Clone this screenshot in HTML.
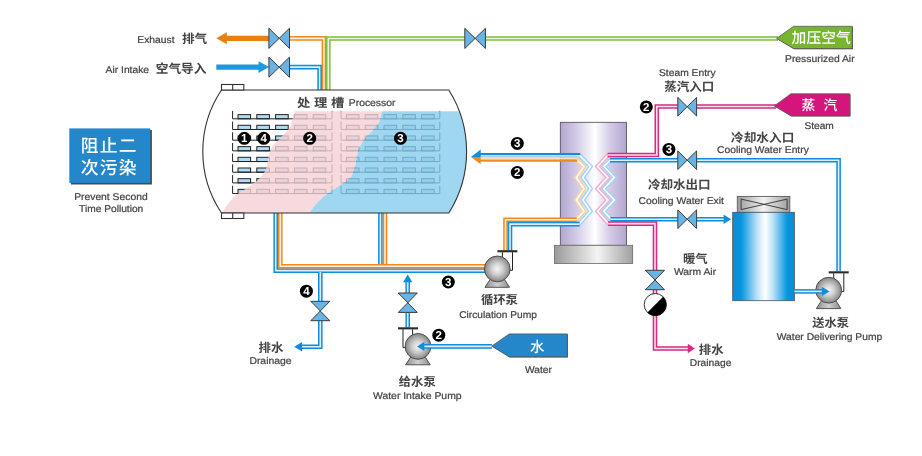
<!DOCTYPE html>
<html lang="zh">
<head>
<meta charset="utf-8">
<title>处理槽 Processor</title>
<style>
html,body{margin:0;padding:0;background:#fff;}
body{width:922px;height:456px;overflow:hidden;font-family:"Liberation Sans","Noto Sans CJK SC",sans-serif;}
svg{display:block;}
svg{will-change:transform;}
text{text-rendering:geometricPrecision;}
</style>
</head>
<body>
<svg width="922" height="456" viewBox="0 0 922 456">
<defs>
<linearGradient id="gex" x1="0" y1="0" x2="1" y2="0">
<stop offset="0" stop-color="#b3a6d0"/><stop offset="0.25" stop-color="#d3cbe6"/><stop offset="0.52" stop-color="#ffffff"/><stop offset="0.75" stop-color="#d3cbe6"/><stop offset="1" stop-color="#b3a6d0"/>
</linearGradient>
<linearGradient id="gexb" x1="0" y1="0" x2="1" y2="0">
<stop offset="0" stop-color="#9a9a9a"/><stop offset="0.55" stop-color="#f4f4f4"/><stop offset="1" stop-color="#a0a0a0"/>
</linearGradient>
<linearGradient id="gct" x1="0" y1="0" x2="1" y2="0">
<stop offset="0" stop-color="#0f88d4"/><stop offset="0.14" stop-color="#0597e0"/><stop offset="0.40" stop-color="#bfe2f7"/><stop offset="0.525" stop-color="#ffffff"/><stop offset="0.65" stop-color="#bfe2f7"/><stop offset="0.88" stop-color="#0597e0"/><stop offset="1" stop-color="#0f88d4"/>
</linearGradient>
<linearGradient id="gctt" x1="0" y1="0" x2="1" y2="0">
<stop offset="0" stop-color="#9c9c9c"/><stop offset="0.5" stop-color="#f2f2f2"/><stop offset="1" stop-color="#9c9c9c"/>
</linearGradient>
<linearGradient id="gbase" x1="0" y1="0" x2="1" y2="0">
<stop offset="0" stop-color="#8c8c8c"/><stop offset="0.5" stop-color="#d0d0d0"/><stop offset="1" stop-color="#8c8c8c"/>
</linearGradient>
<radialGradient id="gpump" cx="0.5" cy="0.5" r="0.5">
<stop offset="0" stop-color="#f6f6f6"/><stop offset="0.45" stop-color="#cfcfcf"/><stop offset="1" stop-color="#858585"/>
</radialGradient>
<clipPath id="tankclip"><path d="M221.5,90 H448.8 A115.14,115.14 0 0 1 448.8,213 H221.5 A110.48,110.48 0 0 1 221.5,90 Z"/></clipPath>
</defs>
<rect width="922" height="456" fill="#ffffff"/>

<g fill="none" stroke-linejoin="miter" stroke-miterlimit="10"><path d="M289.00,38.40 L323.90,38.40 L323.90,90.20" stroke="#f08a1c" stroke-width="4.60"/><path d="M289.00,38.40 L323.90,38.40 L323.90,90.20" stroke="#fdefdf" stroke-width="1.60"/></g>
<g fill="none" stroke-linejoin="miter" stroke-miterlimit="10"><path d="M289.00,67.10 L319.60,67.10 L319.60,90.20" stroke="#0f8edb" stroke-width="4.60"/><path d="M289.00,67.10 L319.60,67.10 L319.60,90.20" stroke="#ddeffa" stroke-width="1.60"/></g>
<g fill="none" stroke-linejoin="miter" stroke-miterlimit="10"><path d="M328.30,90.20 L328.30,38.50 L778.00,38.50" stroke="#7fbe3c" stroke-width="4.60"/><path d="M328.30,90.20 L328.30,38.50 L778.00,38.50" stroke="#edf6e4" stroke-width="1.60"/></g>
<path d="M216.3,38.3 L226.8,32.3 V35.7 H269 V40.9 H226.8 V44.3 Z" fill="#ea8010"/>
<path d="M216.3,64.4 H258.5 V61.2 L269,67.1 L258.5,73 V69.8 H216.3 Z" fill="#1a9ae0"/>
<rect x="268.90" y="35.10" width="20.60" height="6.4" fill="#fff"/>
<path d="M268.90,28.20 L289.50,48.40 L289.50,28.20 L268.90,48.40 Z" fill="#6bb3e2" stroke="#3c3c3c" stroke-width="1" stroke-linejoin="miter"/>
<rect x="268.90" y="64.00" width="20.60" height="6.4" fill="#fff"/>
<path d="M268.90,57.10 L289.50,77.30 L289.50,57.10 L268.90,77.30 Z" fill="#6bb3e2" stroke="#3c3c3c" stroke-width="1" stroke-linejoin="miter"/>
<rect x="464.80" y="35.20" width="20.60" height="6.4" fill="#fff"/>
<path d="M464.80,28.30 L485.40,48.50 L485.40,28.30 L464.80,48.50 Z" fill="#6bb3e2" stroke="#3c3c3c" stroke-width="1" stroke-linejoin="miter"/>
<g fill="none" stroke-linejoin="miter" stroke-miterlimit="10"><path d="M380.40,212.50 L380.40,264.20" stroke="#0f8edb" stroke-width="4.60"/><path d="M380.40,212.50 L380.40,264.20" stroke="#ddeffa" stroke-width="1.60"/></g>
<g fill="none" stroke-linejoin="miter" stroke-miterlimit="10"><path d="M275.70,212.50 L275.70,270.60 L486.00,270.60" stroke="#0f8edb" stroke-width="4.60"/><path d="M275.70,212.50 L275.70,270.60 L486.00,270.60" stroke="#ddeffa" stroke-width="1.60"/></g>
<g fill="none" stroke-linejoin="miter" stroke-miterlimit="10"><path d="M385.00,212.50 L385.00,266.20" stroke="#f08a1c" stroke-width="4.60"/><path d="M385.00,212.50 L385.00,266.20" stroke="#fdefdf" stroke-width="1.60"/></g>
<g fill="none" stroke-linejoin="miter" stroke-miterlimit="10"><path d="M280.30,212.50 L280.30,266.20 L486.00,266.20" stroke="#f08a1c" stroke-width="4.60"/><path d="M280.30,212.50 L280.30,266.20 L486.00,266.20" stroke="#fdefdf" stroke-width="1.60"/></g>
<path d="M221.5,90 H448.8 A115.14,115.14 0 0 1 448.8,213 H221.5 A110.48,110.48 0 0 1 221.5,90 Z" fill="#ffffff"/>
<g stroke="#222" stroke-width="1" fill="#aedcf6">
<rect x="238.00" y="114.60" width="12.6" height="4.2"/>
<rect x="256.80" y="114.60" width="12.6" height="4.2"/>
<rect x="275.60" y="114.60" width="12.6" height="4.2"/>
<rect x="294.40" y="114.60" width="12.6" height="4.2"/>
<rect x="313.20" y="114.60" width="12.6" height="4.2"/>
<rect x="238.00" y="125.28" width="12.6" height="4.2"/>
<rect x="256.80" y="125.28" width="12.6" height="4.2"/>
<rect x="275.60" y="125.28" width="12.6" height="4.2"/>
<rect x="294.40" y="125.28" width="12.6" height="4.2"/>
<rect x="313.20" y="125.28" width="12.6" height="4.2"/>
<rect x="238.00" y="135.96" width="12.6" height="4.2"/>
<rect x="256.80" y="135.96" width="12.6" height="4.2"/>
<rect x="275.60" y="135.96" width="12.6" height="4.2"/>
<rect x="294.40" y="135.96" width="12.6" height="4.2"/>
<rect x="313.20" y="135.96" width="12.6" height="4.2"/>
<rect x="238.00" y="146.64" width="12.6" height="4.2"/>
<rect x="256.80" y="146.64" width="12.6" height="4.2"/>
<rect x="275.60" y="146.64" width="12.6" height="4.2"/>
<rect x="294.40" y="146.64" width="12.6" height="4.2"/>
<rect x="313.20" y="146.64" width="12.6" height="4.2"/>
<rect x="238.00" y="157.32" width="12.6" height="4.2"/>
<rect x="256.80" y="157.32" width="12.6" height="4.2"/>
<rect x="275.60" y="157.32" width="12.6" height="4.2"/>
<rect x="294.40" y="157.32" width="12.6" height="4.2"/>
<rect x="313.20" y="157.32" width="12.6" height="4.2"/>
<rect x="238.00" y="168.00" width="12.6" height="4.2"/>
<rect x="256.80" y="168.00" width="12.6" height="4.2"/>
<rect x="275.60" y="168.00" width="12.6" height="4.2"/>
<rect x="294.40" y="168.00" width="12.6" height="4.2"/>
<rect x="313.20" y="168.00" width="12.6" height="4.2"/>
<rect x="238.00" y="178.68" width="12.6" height="4.2"/>
<rect x="256.80" y="178.68" width="12.6" height="4.2"/>
<rect x="275.60" y="178.68" width="12.6" height="4.2"/>
<rect x="294.40" y="178.68" width="12.6" height="4.2"/>
<rect x="313.20" y="178.68" width="12.6" height="4.2"/>
<rect x="238.00" y="189.36" width="12.6" height="4.2"/>
<rect x="256.80" y="189.36" width="12.6" height="4.2"/>
<rect x="275.60" y="189.36" width="12.6" height="4.2"/>
<rect x="294.40" y="189.36" width="12.6" height="4.2"/>
<rect x="313.20" y="189.36" width="12.6" height="4.2"/>
<rect x="346.40" y="114.60" width="12.6" height="4.2"/>
<rect x="365.20" y="114.60" width="12.6" height="4.2"/>
<rect x="384.00" y="114.60" width="12.6" height="4.2"/>
<rect x="402.80" y="114.60" width="12.6" height="4.2"/>
<rect x="421.60" y="114.60" width="12.6" height="4.2"/>
<rect x="346.40" y="125.28" width="12.6" height="4.2"/>
<rect x="365.20" y="125.28" width="12.6" height="4.2"/>
<rect x="384.00" y="125.28" width="12.6" height="4.2"/>
<rect x="402.80" y="125.28" width="12.6" height="4.2"/>
<rect x="421.60" y="125.28" width="12.6" height="4.2"/>
<rect x="346.40" y="135.96" width="12.6" height="4.2"/>
<rect x="365.20" y="135.96" width="12.6" height="4.2"/>
<rect x="384.00" y="135.96" width="12.6" height="4.2"/>
<rect x="402.80" y="135.96" width="12.6" height="4.2"/>
<rect x="421.60" y="135.96" width="12.6" height="4.2"/>
<rect x="346.40" y="146.64" width="12.6" height="4.2"/>
<rect x="365.20" y="146.64" width="12.6" height="4.2"/>
<rect x="384.00" y="146.64" width="12.6" height="4.2"/>
<rect x="402.80" y="146.64" width="12.6" height="4.2"/>
<rect x="421.60" y="146.64" width="12.6" height="4.2"/>
<rect x="346.40" y="157.32" width="12.6" height="4.2"/>
<rect x="365.20" y="157.32" width="12.6" height="4.2"/>
<rect x="384.00" y="157.32" width="12.6" height="4.2"/>
<rect x="402.80" y="157.32" width="12.6" height="4.2"/>
<rect x="421.60" y="157.32" width="12.6" height="4.2"/>
<rect x="346.40" y="168.00" width="12.6" height="4.2"/>
<rect x="365.20" y="168.00" width="12.6" height="4.2"/>
<rect x="384.00" y="168.00" width="12.6" height="4.2"/>
<rect x="402.80" y="168.00" width="12.6" height="4.2"/>
<rect x="421.60" y="168.00" width="12.6" height="4.2"/>
<rect x="346.40" y="178.68" width="12.6" height="4.2"/>
<rect x="365.20" y="178.68" width="12.6" height="4.2"/>
<rect x="384.00" y="178.68" width="12.6" height="4.2"/>
<rect x="402.80" y="178.68" width="12.6" height="4.2"/>
<rect x="421.60" y="178.68" width="12.6" height="4.2"/>
<rect x="346.40" y="189.36" width="12.6" height="4.2"/>
<rect x="365.20" y="189.36" width="12.6" height="4.2"/>
<rect x="384.00" y="189.36" width="12.6" height="4.2"/>
<rect x="402.80" y="189.36" width="12.6" height="4.2"/>
<rect x="421.60" y="189.36" width="12.6" height="4.2"/>
</g>
<g stroke="#222" stroke-width="1" fill="none">
<path d="M232.60,110.90 V118.80 H332.00 V110.90"/>
<path d="M232.60,121.58 V129.48 H332.00 V121.58"/>
<path d="M232.60,132.26 V140.16 H332.00 V132.26"/>
<path d="M232.60,142.94 V150.84 H332.00 V142.94"/>
<path d="M232.60,153.62 V161.52 H332.00 V153.62"/>
<path d="M232.60,164.30 V172.20 H332.00 V164.30"/>
<path d="M232.60,174.98 V182.88 H332.00 V174.98"/>
<path d="M232.60,185.66 V193.56 H332.00 V185.66"/>
<path d="M341.00,110.90 V118.80 H439.80 V110.90"/>
<path d="M341.00,121.58 V129.48 H439.80 V121.58"/>
<path d="M341.00,132.26 V140.16 H439.80 V132.26"/>
<path d="M341.00,142.94 V150.84 H439.80 V142.94"/>
<path d="M341.00,153.62 V161.52 H439.80 V153.62"/>
<path d="M341.00,164.30 V172.20 H439.80 V164.30"/>
<path d="M341.00,174.98 V182.88 H439.80 V174.98"/>
<path d="M341.00,185.66 V193.56 H439.80 V185.66"/>
</g>
<g clip-path="url(#tankclip)">
<path d="M294.60,111.20 C294.28,112.45 293.63,115.82 292.70,118.70 C291.77,121.58 290.62,125.78 289.00,128.50 C287.38,131.22 284.70,133.12 283.00,135.00 C281.30,136.88 280.25,138.27 278.80,139.80 C277.35,141.33 275.57,142.75 274.30,144.20 C273.03,145.65 272.08,146.70 271.20,148.50 C270.32,150.30 269.57,152.92 269.00,155.00 C268.43,157.08 268.37,158.50 267.80,161.00 C267.23,163.50 267.23,166.83 265.60,170.00 C263.97,173.17 261.25,176.93 258.00,180.00 C254.75,183.07 249.75,185.88 246.10,188.40 C242.45,190.92 239.12,192.50 236.10,195.10 C233.08,197.70 230.52,200.85 228.00,204.00 C225.48,207.15 222.17,212.33 221.00,214.00 L309,214 L309.00,214.00 C309.37,213.40 309.43,212.68 311.20,210.40 C312.97,208.12 316.53,203.33 319.60,200.30 C322.67,197.27 326.53,194.45 329.60,192.20 C332.67,189.95 334.68,189.07 338.00,186.80 C341.32,184.53 346.83,181.40 349.50,178.60 C352.17,175.80 352.83,173.10 354.00,170.00 C355.17,166.90 355.77,163.30 356.50,160.00 C357.23,156.70 356.98,153.78 358.40,150.20 C359.82,146.62 362.50,141.85 365.00,138.50 C367.50,135.15 371.02,132.88 373.40,130.10 C375.78,127.32 377.90,124.95 379.30,121.80 C380.70,118.65 381.38,112.97 381.80,111.20 Z" fill="#f5d1d6" fill-opacity="0.8"/>
<path d="M381.80,111.20 C381.38,112.97 380.70,118.65 379.30,121.80 C377.90,124.95 375.78,127.32 373.40,130.10 C371.02,132.88 367.50,135.15 365.00,138.50 C362.50,141.85 359.82,146.62 358.40,150.20 C356.98,153.78 357.23,156.70 356.50,160.00 C355.77,163.30 355.17,166.90 354.00,170.00 C352.83,173.10 352.17,175.80 349.50,178.60 C346.83,181.40 341.32,184.53 338.00,186.80 C334.68,189.07 332.67,189.95 329.60,192.20 C326.53,194.45 322.67,197.27 319.60,200.30 C316.53,203.33 312.97,208.12 311.20,210.40 C309.43,212.68 309.37,213.40 309.00,214.00 L480,214 L480,111.2 Z" fill="#88cdec" fill-opacity="0.8"/>
</g>
<path d="M221.5,90 H448.8 A115.14,115.14 0 0 1 448.8,213 H221.5 A110.48,110.48 0 0 1 221.5,90 Z" fill="none" stroke="#333" stroke-width="1.1"/>
<g fill="#fff" stroke="#333" stroke-width="1.1"><rect x="221.5" y="84.5" width="22.3" height="5.5"/><path d="M232.7,84.5 V90"/><rect x="221.5" y="213" width="22.3" height="5.5"/><path d="M232.7,213 V218.5"/></g>
<text x="296.90" y="107.00" font-size="12.00" font-weight="bold" fill="#444444" text-anchor="start" textLength="47.3" lengthAdjust="spacingAndGlyphs" font-family="'Liberation Sans', 'Noto Sans CJK SC', sans-serif">处 理 槽</text>
<text x="348.80" y="105.70" font-size="9.80" fill="#444444" stroke="#444444" stroke-width="0.22" text-anchor="start" textLength="46.6" lengthAdjust="spacingAndGlyphs" font-family="'Liberation Sans', sans-serif">Processor</text>
<circle cx="244.30" cy="138.30" r="6.50" fill="#000"/>
<text x="244.30" y="142.30" font-size="11.5" font-weight="bold" fill="#fff" text-anchor="middle" font-family="'Liberation Sans', sans-serif">1</text>
<circle cx="263.80" cy="138.30" r="6.50" fill="#000"/>
<text x="263.80" y="142.30" font-size="11.5" font-weight="bold" fill="#fff" text-anchor="middle" font-family="'Liberation Sans', sans-serif">4</text>
<circle cx="309.70" cy="138.30" r="6.50" fill="#000"/>
<text x="309.70" y="142.30" font-size="11.5" font-weight="bold" fill="#fff" text-anchor="middle" font-family="'Liberation Sans', sans-serif">2</text>
<circle cx="400.50" cy="138.30" r="6.50" fill="#000"/>
<text x="400.50" y="142.30" font-size="11.5" font-weight="bold" fill="#fff" text-anchor="middle" font-family="'Liberation Sans', sans-serif">3</text>
<rect x="70.9" y="130.0" width="81" height="54.5" fill="#4a4a4a"/>
<rect x="69.3" y="128.4" width="81" height="54.5" fill="#2487c9"/>
<text x="108.70" y="152.00" font-size="17.80" font-weight="500" fill="#fff" text-anchor="middle" textLength="55.8" lengthAdjust="spacing" font-family="'Liberation Sans', 'Noto Sans CJK SC', sans-serif">阻止二</text>
<text x="108.70" y="173.60" font-size="17.80" font-weight="500" fill="#fff" text-anchor="middle" textLength="55.8" lengthAdjust="spacing" font-family="'Liberation Sans', 'Noto Sans CJK SC', sans-serif">次污染</text>
<text x="110.90" y="200.00" font-size="9.80" fill="#444444" stroke="#444444" stroke-width="0.22" text-anchor="middle" textLength="73.5" lengthAdjust="spacingAndGlyphs" font-family="'Liberation Sans', sans-serif">Prevent Second</text>
<text x="111.20" y="212.00" font-size="9.80" fill="#444444" stroke="#444444" stroke-width="0.22" text-anchor="middle" textLength="64.2" lengthAdjust="spacingAndGlyphs" font-family="'Liberation Sans', sans-serif">Time Pollution</text>
<text x="137.30" y="43.40" font-size="9.80" fill="#444444" stroke="#444444" stroke-width="0.22" text-anchor="start" textLength="37.2" lengthAdjust="spacingAndGlyphs" font-family="'Liberation Sans', sans-serif">Exhaust</text>
<text x="181.90" y="43.30" font-size="12.40" font-weight="bold" fill="#444444" text-anchor="start" textLength="25.3" lengthAdjust="spacingAndGlyphs" font-family="'Liberation Sans', 'Noto Sans CJK SC', sans-serif">排气</text>
<text x="105.60" y="72.80" font-size="9.80" fill="#444444" stroke="#444444" stroke-width="0.22" text-anchor="start" textLength="43.5" lengthAdjust="spacingAndGlyphs" font-family="'Liberation Sans', sans-serif">Air Intake</text>
<text x="155.80" y="73.20" font-size="12.40" font-weight="bold" fill="#444444" text-anchor="start" textLength="50.6" lengthAdjust="spacingAndGlyphs" font-family="'Liberation Sans', 'Noto Sans CJK SC', sans-serif">空气导入</text>
<rect x="560.3" y="122.3" width="66.3" height="123" fill="url(#gex)" stroke="#4a4a4a" stroke-width="0.8"/>
<rect x="554.5" y="245.3" width="78.2" height="18.2" fill="url(#gexb)" stroke="#6a6a6a" stroke-width="0.8"/>
<g fill="none" stroke-linejoin="miter" stroke-miterlimit="10"><path d="M576.20,159.50 L584.00,166.40 L576.30,177.60 L584.00,188.80 L576.30,200.00 L584.00,211.20 L576.20,219.80" stroke="#fad0a4" stroke-width="4.40"/><path d="M576.20,159.50 L584.00,166.40 L576.30,177.60 L584.00,188.80 L576.30,200.00 L584.00,211.20 L576.20,219.80" stroke="#ffffff" stroke-width="1.50"/></g>
<g fill="none" stroke-linejoin="miter" stroke-miterlimit="10"><path d="M579.10,155.10 L590.60,166.40 L582.80,177.60 L590.60,188.80 L582.80,200.00 L590.60,211.20 L579.10,224.10" stroke="#a4d6f4" stroke-width="4.40"/><path d="M579.10,155.10 L590.60,166.40 L582.80,177.60 L590.60,188.80 L582.80,200.00 L590.60,211.20 L579.10,224.10" stroke="#ffffff" stroke-width="1.50"/></g>
<g fill="none" stroke-linejoin="miter" stroke-miterlimit="10"><path d="M608.10,155.00 L597.50,166.40 L607.90,177.60 L597.50,188.80 L607.90,200.00 L597.50,211.20 L608.40,223.60" stroke="#f2b0cc" stroke-width="4.40"/><path d="M608.10,155.00 L597.50,166.40 L607.90,177.60 L597.50,188.80 L607.90,200.00 L597.50,211.20 L608.40,223.60" stroke="#ffffff" stroke-width="1.50"/></g>
<g fill="none" stroke-linejoin="miter" stroke-miterlimit="10"><path d="M610.40,160.30 L603.80,166.40 L614.30,177.60 L603.80,188.80 L614.30,200.00 L603.80,211.20 L611.00,219.20" stroke="#a4d6f4" stroke-width="4.40"/><path d="M610.40,160.30 L603.80,166.40 L614.30,177.60 L603.80,188.80 L614.30,200.00 L603.80,211.20 L611.00,219.20" stroke="#ffffff" stroke-width="1.50"/></g>
<rect x="479.5" y="155" width="100" height="2.1" fill="#bcdff5"/>
<rect x="479.5" y="157.3" width="97.4" height="2.2" fill="#fbdebf"/>
<rect x="479.5" y="156.55" width="97.4" height="0.75" fill="#a9bcc8"/>
<path d="M479.5,154 H580.3" stroke="#0f8edb" stroke-width="2.1" fill="none"/>
<path d="M479.5,160.55 H577.3" stroke="#f08a1c" stroke-width="2.3" fill="none"/>
<path d="M470.9,157.0 L480.7,149.6 V157.0 Z" fill="#0f8edb"/>
<path d="M470.9,157.0 L480.7,164.2 V157.0 Z" fill="#f08a1c"/>
<g fill="none" stroke-linejoin="miter" stroke-miterlimit="10"><path d="M576.70,219.80 L505.50,219.80 L505.50,250.50" stroke="#f08a1c" stroke-width="4.60"/><path d="M576.70,219.80 L505.50,219.80 L505.50,250.50" stroke="#fdefdf" stroke-width="1.60"/></g>
<g fill="none" stroke-linejoin="miter" stroke-miterlimit="10"><path d="M579.60,224.10 L510.00,224.10 L510.00,250.50" stroke="#0f8edb" stroke-width="4.60"/><path d="M579.60,224.10 L510.00,224.10 L510.00,250.50" stroke="#ddeffa" stroke-width="1.60"/></g>
<g fill="none" stroke-linejoin="miter" stroke-miterlimit="10"><path d="M776.00,106.50 L656.80,106.50 L656.80,155.00 L607.60,155.00" stroke="#d82a80" stroke-width="4.60"/><path d="M776.00,106.50 L656.80,106.50 L656.80,155.00 L607.60,155.00" stroke="#fae1ed" stroke-width="1.60"/></g>
<g fill="none" stroke-linejoin="miter" stroke-miterlimit="10"><path d="M609.90,160.30 L838.60,160.30 L838.60,271.50" stroke="#0f8edb" stroke-width="4.60"/><path d="M609.90,160.30 L838.60,160.30 L838.60,271.50" stroke="#ddeffa" stroke-width="1.60"/></g>
<g fill="none" stroke-linejoin="miter" stroke-miterlimit="10"><path d="M610.50,219.20 L725.00,219.20" stroke="#0f8edb" stroke-width="4.60"/><path d="M610.50,219.20 L725.00,219.20" stroke="#ddeffa" stroke-width="1.60"/></g>
<g fill="none" stroke-linejoin="miter" stroke-miterlimit="10"><path d="M607.90,223.60 L655.00,223.60 L655.00,348.50 L689.00,348.50" stroke="#d82a80" stroke-width="4.60"/><path d="M607.90,223.60 L655.00,223.60 L655.00,348.50 L689.00,348.50" stroke="#fae1ed" stroke-width="1.60"/></g>
<path d="M731,219.3 L723.6,214.6 V224 Z" fill="#0f8edb"/>
<path d="M694.8,348.5 L687.8,343.7 V353.3 Z" fill="#d82a80"/>
<rect x="677.80" y="103.50" width="18.80" height="6.4" fill="#fff"/>
<path d="M677.80,97.40 L696.60,116.00 L696.60,97.40 L677.80,116.00 Z" fill="#6bb3e2" stroke="#3c3c3c" stroke-width="1" stroke-linejoin="miter"/>
<rect x="677.80" y="157.00" width="18.80" height="6.4" fill="#fff"/>
<path d="M677.80,150.90 L696.60,169.50 L696.60,150.90 L677.80,169.50 Z" fill="#6bb3e2" stroke="#3c3c3c" stroke-width="1" stroke-linejoin="miter"/>
<rect x="677.80" y="216.00" width="18.80" height="6.4" fill="#fff"/>
<path d="M677.80,209.90 L696.60,228.50 L696.60,209.90 L677.80,228.50 Z" fill="#6bb3e2" stroke="#3c3c3c" stroke-width="1" stroke-linejoin="miter"/>
<rect x="651.80" y="270.30" width="6.4" height="19.40" fill="#fff"/>
<path d="M645.50,270.30 L664.50,270.30 L645.50,289.70 L664.50,289.70 Z" fill="#6bb3e2" stroke="#3c3c3c" stroke-width="1" stroke-linejoin="miter"/>
<circle cx="655.3" cy="304.6" r="11.1" fill="#fff" stroke="#000" stroke-width="0.8"/>
<path d="M663.15,296.75 A11.1,11.1 0 0 1 647.45,312.45 Z" fill="#000"/>
<circle cx="646.30" cy="106.90" r="6.50" fill="#000"/>
<text x="646.30" y="110.90" font-size="11.5" font-weight="bold" fill="#fff" text-anchor="middle" font-family="'Liberation Sans', sans-serif">2</text>
<circle cx="668.90" cy="149.40" r="6.50" fill="#000"/>
<text x="668.90" y="153.40" font-size="11.5" font-weight="bold" fill="#fff" text-anchor="middle" font-family="'Liberation Sans', sans-serif">3</text>
<circle cx="517.30" cy="143.40" r="6.50" fill="#000"/>
<text x="517.30" y="147.40" font-size="11.5" font-weight="bold" fill="#fff" text-anchor="middle" font-family="'Liberation Sans', sans-serif">3</text>
<circle cx="517.30" cy="172.40" r="6.50" fill="#000"/>
<text x="517.30" y="176.40" font-size="11.5" font-weight="bold" fill="#fff" text-anchor="middle" font-family="'Liberation Sans', sans-serif">2</text>
<path d="M776.60,38.40 L793.60,26.30 H852.30 V48.60 H793.60 Z" fill="#555" transform="translate(0.7,0.7)"/>
<path d="M776.60,38.40 L793.60,26.30 H852.30 V48.60 H793.60 Z" fill="#78b52e" stroke="#5a5a5a" stroke-width="0.8" stroke-linejoin="miter"/>
<text x="821.20" y="42.50" font-size="14.80" font-weight="500" fill="#fff" text-anchor="middle" textLength="59.2" lengthAdjust="spacing" font-family="'Liberation Sans', 'Noto Sans CJK SC', sans-serif">加压空气</text>
<text x="785.00" y="61.80" font-size="9.80" fill="#444444" stroke="#444444" stroke-width="0.22" text-anchor="start" textLength="69.6" lengthAdjust="spacingAndGlyphs" font-family="'Liberation Sans', sans-serif">Pressurized Air</text>
<path d="M774.30,105.90 L790.90,93.80 H849.80 V115.80 H790.90 Z" fill="#555" transform="translate(0.7,0.7)"/>
<path d="M774.30,105.90 L790.90,93.80 H849.80 V115.80 H790.90 Z" fill="#d4167c" stroke="#5a5a5a" stroke-width="0.8" stroke-linejoin="miter"/>
<text x="819.40" y="110.00" font-size="13.80" font-weight="500" fill="#fff" text-anchor="middle" textLength="35.6" lengthAdjust="spacing" font-family="'Liberation Sans', 'Noto Sans CJK SC', sans-serif">蒸 汽</text>
<text x="804.40" y="129.00" font-size="9.80" fill="#444444" stroke="#444444" stroke-width="0.22" text-anchor="start" textLength="29.4" lengthAdjust="spacingAndGlyphs" font-family="'Liberation Sans', sans-serif">Steam</text>
<text x="659.00" y="75.60" font-size="9.80" fill="#444444" stroke="#444444" stroke-width="0.22" text-anchor="start" textLength="56.6" lengthAdjust="spacingAndGlyphs" font-family="'Liberation Sans', sans-serif">Steam Entry</text>
<text x="664.20" y="90.80" font-size="12.30" font-weight="bold" fill="#444444" text-anchor="start" textLength="50.0" lengthAdjust="spacingAndGlyphs" font-family="'Liberation Sans', 'Noto Sans CJK SC', sans-serif">蒸汽入口</text>
<text x="731.10" y="142.20" font-size="12.30" font-weight="bold" fill="#444444" text-anchor="start" textLength="63.2" lengthAdjust="spacingAndGlyphs" font-family="'Liberation Sans', 'Noto Sans CJK SC', sans-serif">冷却水入口</text>
<text x="717.00" y="152.90" font-size="9.80" fill="#444444" stroke="#444444" stroke-width="0.22" text-anchor="start" textLength="91.8" lengthAdjust="spacingAndGlyphs" font-family="'Liberation Sans', sans-serif">Cooling Water Entry</text>
<text x="647.90" y="189.00" font-size="12.30" font-weight="bold" fill="#444444" text-anchor="start" textLength="62.8" lengthAdjust="spacingAndGlyphs" font-family="'Liberation Sans', 'Noto Sans CJK SC', sans-serif">冷却水出口</text>
<text x="638.40" y="203.60" font-size="9.80" fill="#444444" stroke="#444444" stroke-width="0.22" text-anchor="start" textLength="85.6" lengthAdjust="spacingAndGlyphs" font-family="'Liberation Sans', sans-serif">Cooling Water Exit</text>
<text x="683.00" y="263.30" font-size="12.20" font-weight="bold" fill="#444444" text-anchor="start" textLength="24.7" lengthAdjust="spacingAndGlyphs" font-family="'Liberation Sans', 'Noto Sans CJK SC', sans-serif">暖气</text>
<text x="673.90" y="274.70" font-size="9.80" fill="#444444" stroke="#444444" stroke-width="0.22" text-anchor="start" textLength="42.2" lengthAdjust="spacingAndGlyphs" font-family="'Liberation Sans', sans-serif">Warm Air</text>
<text x="698.80" y="353.80" font-size="12.30" font-weight="bold" fill="#444444" text-anchor="start" textLength="24.7" lengthAdjust="spacingAndGlyphs" font-family="'Liberation Sans', 'Noto Sans CJK SC', sans-serif">排水</text>
<text x="689.80" y="366.00" font-size="9.80" fill="#444444" stroke="#444444" stroke-width="0.22" text-anchor="start" textLength="41.6" lengthAdjust="spacingAndGlyphs" font-family="'Liberation Sans', sans-serif">Drainage</text>
<rect x="737.3" y="196.4" width="52.5" height="16" fill="url(#gctt)" stroke="#5a5a5a" stroke-width="0.9"/>
<path d="M741.1,199.1 L787.1,209.6 V199.1 L741.1,209.6 Z" fill="none" stroke="#333" stroke-width="0.9" stroke-linejoin="miter"/>
<rect x="732.7" y="212.3" width="61.7" height="88.4" fill="url(#gct)" stroke="#4a5560" stroke-width="0.8"/>
<path d="M821.50,300.70 L835.90,300.70 L840.90,308.60 L816.30,308.60 Z" fill="url(#gbase)" stroke="#444" stroke-width="0.9"/>
<path d="M833.70,273.30 V282.20 M843.80,273.30 V291.60 H839.70" fill="none" stroke="#222" stroke-width="1"/>
<circle cx="828.70" cy="290.20" r="12.90" fill="url(#gpump)" stroke="#444" stroke-width="0.9"/>
<rect x="828.70" y="271.30" width="20" height="2.1" fill="#2b2b2b"/>
<g fill="none" stroke-linejoin="miter" stroke-miterlimit="10"><path d="M794.40,291.40 L823.00,291.40" stroke="#0f8edb" stroke-width="4.60"/><path d="M794.40,291.40 L823.00,291.40" stroke="#ddeffa" stroke-width="1.60"/></g>
<path d="M829.6,291.4 L821.8,286.7 V296.1 Z" fill="#0f8edb"/>
<text x="812.20" y="327.00" font-size="12.20" font-weight="bold" fill="#444444" text-anchor="start" textLength="36.9" lengthAdjust="spacingAndGlyphs" font-family="'Liberation Sans', 'Noto Sans CJK SC', sans-serif">送水泵</text>
<text x="776.70" y="340.20" font-size="9.80" fill="#444444" stroke="#444444" stroke-width="0.22" text-anchor="start" textLength="105.6" lengthAdjust="spacingAndGlyphs" font-family="'Liberation Sans', sans-serif">Water Delivering Pump</text>
<path d="M490.10,279.40 L504.50,279.40 L509.50,287.30 L484.90,287.30 Z" fill="url(#gbase)" stroke="#444" stroke-width="0.9"/>
<path d="M502.40,252.20 V260.90 M512.50,252.20 V270.30 H508.30" fill="none" stroke="#222" stroke-width="1"/>
<circle cx="497.30" cy="268.90" r="12.90" fill="url(#gpump)" stroke="#444" stroke-width="0.9"/>
<rect x="497.40" y="250.20" width="20" height="2.1" fill="#2b2b2b"/>
<text x="480.90" y="304.20" font-size="12.20" font-weight="bold" fill="#444444" text-anchor="start" textLength="37.1" lengthAdjust="spacingAndGlyphs" font-family="'Liberation Sans', 'Noto Sans CJK SC', sans-serif">循环泵</text>
<text x="459.20" y="317.70" font-size="9.80" fill="#444444" stroke="#444444" stroke-width="0.22" text-anchor="start" textLength="77.8" lengthAdjust="spacingAndGlyphs" font-family="'Liberation Sans', sans-serif">Circulation Pump</text>
<circle cx="448.30" cy="282.00" r="6.50" fill="#000"/>
<text x="448.30" y="286.00" font-size="11.5" font-weight="bold" fill="#fff" text-anchor="middle" font-family="'Liberation Sans', sans-serif">3</text>
<g fill="none" stroke-linejoin="miter" stroke-miterlimit="10"><path d="M320.30,272.00 L320.30,346.70 L301.00,346.70" stroke="#0f8edb" stroke-width="4.60"/><path d="M320.30,272.00 L320.30,346.70 L301.00,346.70" stroke="#ddeffa" stroke-width="1.60"/></g>
<path d="M294.2,346.7 L302,341.9 V351.5 Z" fill="#0f8edb"/>
<rect x="317.10" y="301.30" width="6.4" height="19.40" fill="#fff"/>
<path d="M310.80,301.30 L329.80,301.30 L310.80,320.70 L329.80,320.70 Z" fill="#6bb3e2" stroke="#3c3c3c" stroke-width="1" stroke-linejoin="miter"/>
<circle cx="306.40" cy="291.20" r="6.50" fill="#000"/>
<text x="306.40" y="295.20" font-size="11.5" font-weight="bold" fill="#fff" text-anchor="middle" font-family="'Liberation Sans', sans-serif">4</text>
<text x="258.60" y="352.40" font-size="12.30" font-weight="bold" fill="#444444" text-anchor="start" textLength="24.9" lengthAdjust="spacingAndGlyphs" font-family="'Liberation Sans', 'Noto Sans CJK SC', sans-serif">排水</text>
<text x="249.40" y="363.70" font-size="9.80" fill="#444444" stroke="#444444" stroke-width="0.22" text-anchor="start" textLength="42.2" lengthAdjust="spacingAndGlyphs" font-family="'Liberation Sans', sans-serif">Drainage</text>
<g fill="none" stroke-linejoin="miter" stroke-miterlimit="10"><path d="M407.70,327.50 L407.70,281.00" stroke="#0f8edb" stroke-width="4.60"/><path d="M407.70,327.50 L407.70,281.00" stroke="#ddeffa" stroke-width="1.60"/></g>
<path d="M407.7,274.6 L403.0,282.3 H412.4 Z" fill="#0f8edb"/>
<rect x="404.60" y="293.00" width="6.4" height="19.40" fill="#fff"/>
<path d="M398.30,293.00 L417.30,293.00 L398.30,312.40 L417.30,312.40 Z" fill="#6bb3e2" stroke="#3c3c3c" stroke-width="1" stroke-linejoin="miter"/>
<path d="M410.80,356.90 L425.20,356.90 L430.20,364.80 L405.60,364.80 Z" fill="url(#gbase)" stroke="#444" stroke-width="0.9"/>
<path d="M403.00,329.30 V347.60 H407.00 M412.60,329.30 V338.40" fill="none" stroke="#222" stroke-width="1"/>
<circle cx="418.00" cy="346.40" r="12.90" fill="url(#gpump)" stroke="#444" stroke-width="0.9"/>
<rect x="398.00" y="327.30" width="20" height="2.1" fill="#2b2b2b"/>
<g fill="none" stroke-linejoin="miter" stroke-miterlimit="10"><path d="M492.00,346.40 L424.00,346.40" stroke="#0f8edb" stroke-width="4.60"/><path d="M492.00,346.40 L424.00,346.40" stroke="#ddeffa" stroke-width="1.60"/></g>
<path d="M417.0,346.4 L424.4,341.7 V351.1 Z" fill="#0f8edb"/>
<circle cx="438.80" cy="335.20" r="6.50" fill="#000"/>
<text x="438.80" y="339.20" font-size="11.5" font-weight="bold" fill="#fff" text-anchor="middle" font-family="'Liberation Sans', sans-serif">2</text>
<path d="M491.80,346.10 L509.20,333.90 H567.30 V356.80 H509.20 Z" fill="#555" transform="translate(0.7,0.7)"/>
<path d="M491.80,346.10 L509.20,333.90 H567.30 V356.80 H509.20 Z" fill="#2487c9" stroke="#5a5a5a" stroke-width="0.8" stroke-linejoin="miter"/>
<text x="537.20" y="351.90" font-size="14.50" font-weight="500" fill="#fff" text-anchor="middle" font-family="'Liberation Sans', 'Noto Sans CJK SC', sans-serif">水</text>
<text x="525.00" y="373.00" font-size="9.80" fill="#444444" stroke="#444444" stroke-width="0.22" text-anchor="start" textLength="27.0" lengthAdjust="spacingAndGlyphs" font-family="'Liberation Sans', sans-serif">Water</text>
<text x="398.80" y="386.40" font-size="12.20" font-weight="bold" fill="#444444" text-anchor="start" textLength="36.9" lengthAdjust="spacingAndGlyphs" font-family="'Liberation Sans', 'Noto Sans CJK SC', sans-serif">给水泵</text>
<text x="373.00" y="398.70" font-size="9.80" fill="#444444" stroke="#444444" stroke-width="0.22" text-anchor="start" textLength="88.6" lengthAdjust="spacingAndGlyphs" font-family="'Liberation Sans', sans-serif">Water Intake Pump</text>
</svg>
</body>
</html>
